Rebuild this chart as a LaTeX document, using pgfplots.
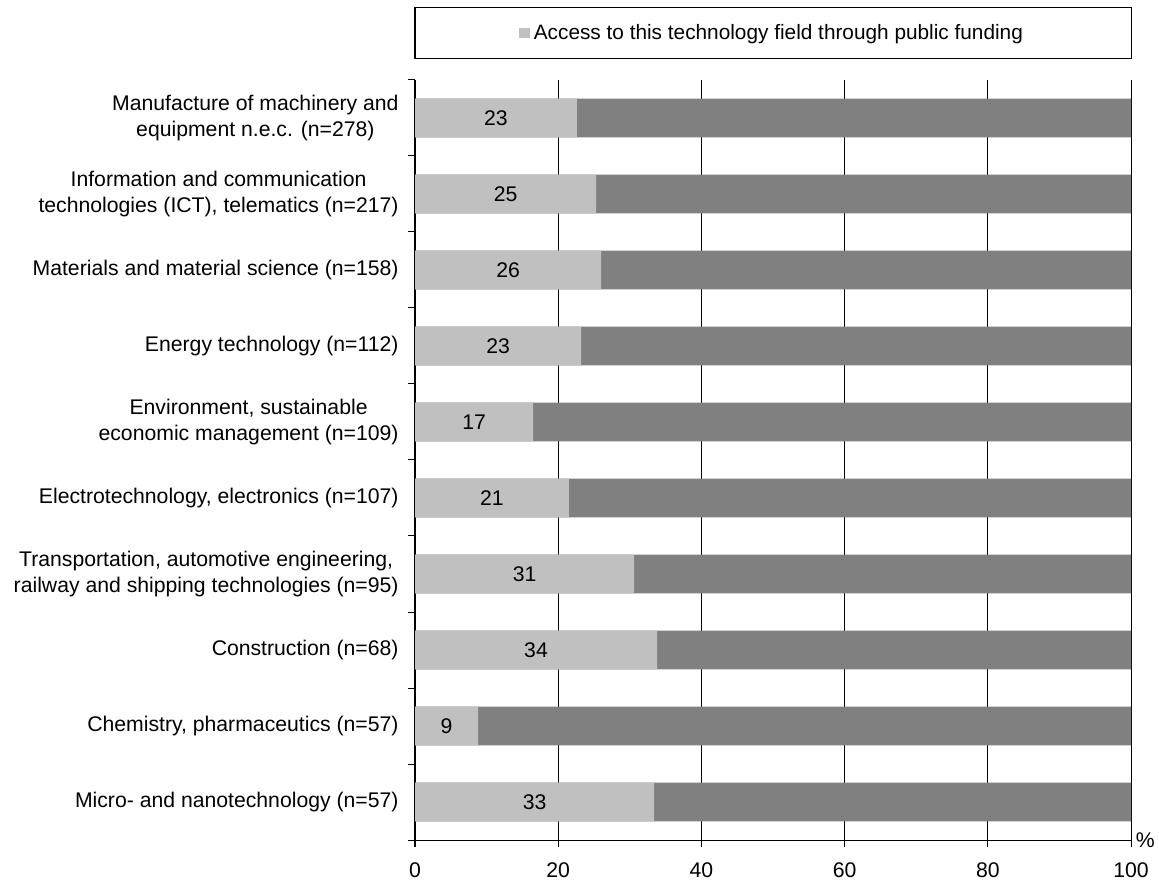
\documentclass[border=0pt]{standalone}
\usepackage{fontspec}
\setmainfont{Liberation Sans}
\usepackage{pgfplots}
\pgfplotsset{compat=1.18}
\usepackage{pgfplotstable}
\definecolor{lightbar}{HTML}{C0C0C0}
\definecolor{darkbar}{HTML}{808080}

% bottom-to-top order
\pgfplotstableread[col sep=comma]{
y,a,b,lab
0,33.4,66.6,33
1,8.8,91.2,9
2,33.8,66.2,34
3,30.6,69.4,31
4,21.5,78.5,21
5,16.5,83.5,17
6,23.2,76.8,23
7,26.0,74.0,26
8,25.3,74.7,25
9,22.6,77.4,23
}\datatable

\begin{document}
\begin{tikzpicture}[font=\fontsize{10.6pt}{12.6pt}\selectfont]
\begin{axis}[
  scale only axis,
  width=358pt, height=380pt,
  xmin=0, xmax=100, ymin=-0.5, ymax=9.5,
  xbar, bar width=19.3pt, bar shift=0pt,
  clip=false,
  axis x line*=bottom, axis y line*=left,
  axis line style={black, line width=0.5pt, -},
  xtick={0,20,...,100},
  xmajorgrids, grid style={black, line width=0.5pt},
  ytick={0,...,9},
  yticklabels={
    Micro- and nanotechnology (n=57),
    {Chemistry, pharmaceutics (n=57)},
    Construction (n=68),
    {Transportation, automotive engineering,\\railway and shipping technologies (n=95)},
    {Electrotechnology, electronics (n=107)},
    {Environment, sustainable\\economic management (n=109)},
    Energy technology (n=112),
    Materials and material science (n=158),
    {Information and communication\\technologies (ICT), telematics (n=217)},
    {Manufacture of machinery and\\equipment n.e.c. (n=278)}
  },
  yticklabel style={align=center, xshift=-1pt},
  minor ytick={-0.5,0.5,...,9.5},
  major y tick style={draw=none},
  tick align=outside,
  major tick length=3.7pt, minor tick length=3.5pt,
  tick style={black, line width=0.5pt},
  xticklabel style={yshift=-4pt},
  /pgf/number format/assume math mode=true,
  ticklabel style={font=\fontsize{10.6pt}{12.6pt}\selectfont},
  legend style={at={(0.5,1)}, anchor=center, yshift=23.5pt, draw=none, fill=none,
    font=\fontsize{10.4pt}{12.4pt}\selectfont, inner sep=1pt},
  legend image code/.code={\fill[lightbar] (0pt,-2.7pt) rectangle (5.4pt,2.7pt);},
]
\addplot[fill=darkbar, draw=none, forget plot] table[x expr=\thisrow{a}+\thisrow{b}, y=y] {\datatable};
\addplot[fill=lightbar, draw=none] table[x=a, y=y] {\datatable};
\addlegendentry{Access to this technology field through public funding}
\addplot[draw=none, fill=none, forget plot,
  nodes near coords, point meta=explicit symbolic,
  nodes near coords style={anchor=center, text=black, font=\fontsize{10.6pt}{12.6pt}\selectfont}]
  table[x expr=\thisrow{a}/2, y=y, meta=lab] {\datatable};
\draw[black, line width=0.5pt] ([yshift=10.5pt]rel axis cs:0,1) rectangle ([yshift=36pt]rel axis cs:1,1);
\node[anchor=west, inner sep=0pt, xshift=2.2pt, yshift=-0.3pt] at (rel axis cs:1,0) {\%};
\path ([xshift=-207.5pt, yshift=-21.5pt]rel axis cs:0,0) rectangle ([xshift=372pt, yshift=420pt]rel axis cs:0,0);
\end{axis}
\end{tikzpicture}
\end{document}
